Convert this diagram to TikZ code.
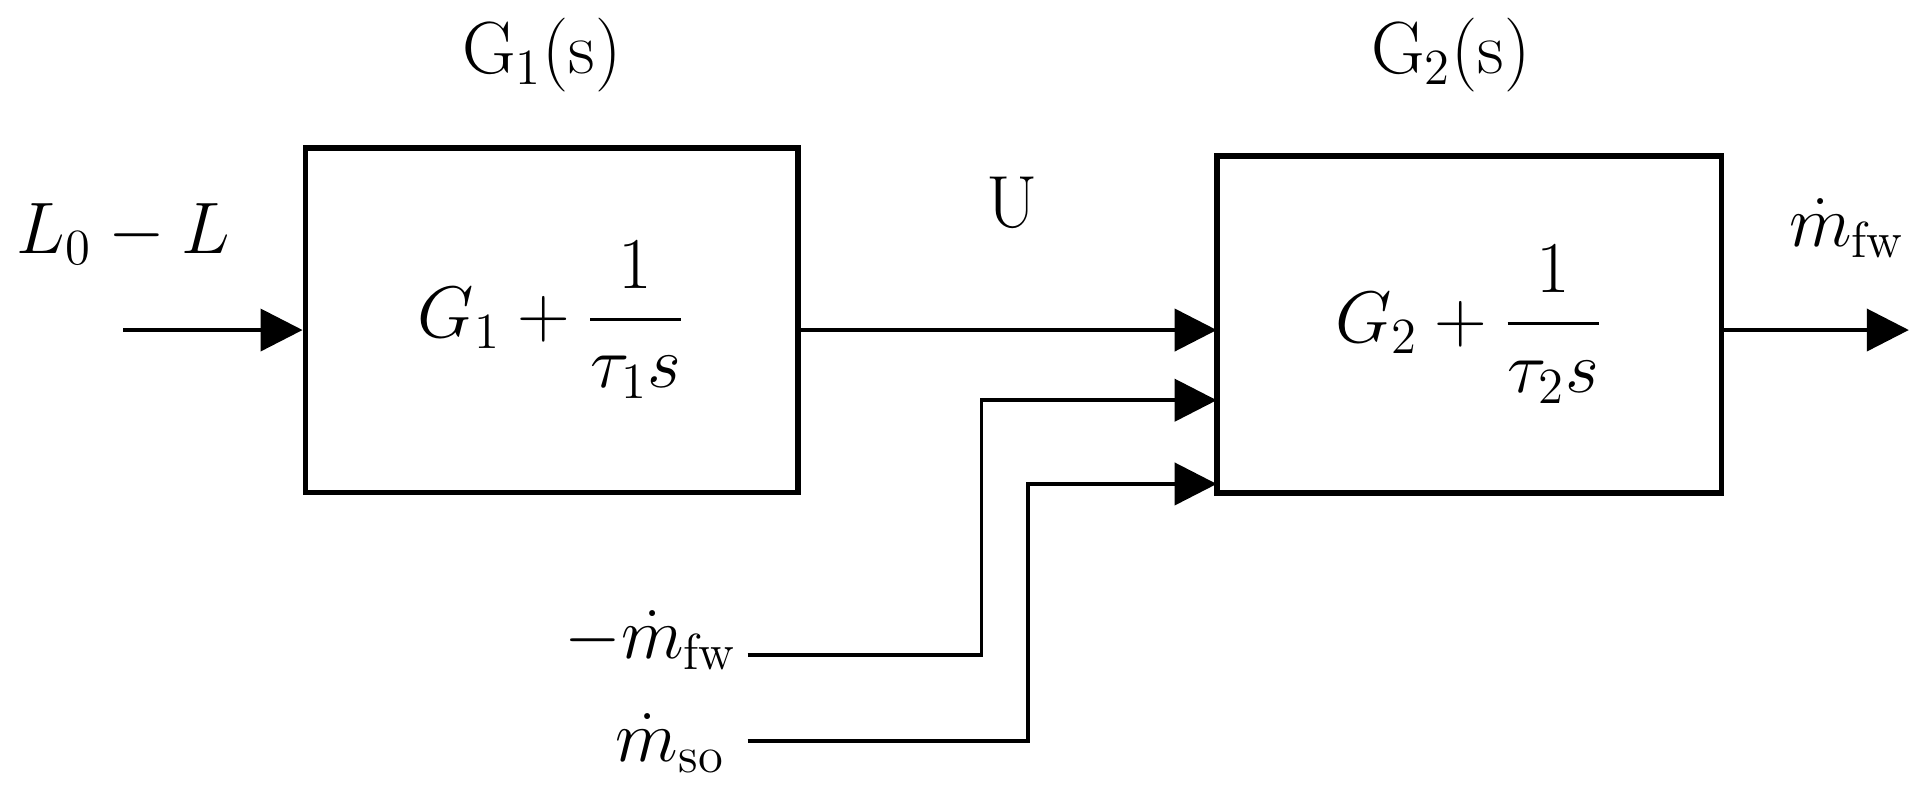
\documentclass[tikz,border=0pt]{standalone}
\usepackage{amsmath}
\usetikzlibrary{arrows.meta}
\begin{document}
\begin{tikzpicture}[x=0.0123cm,y=-0.0123cm,
    line width=1.1pt,
    >={Triangle[length=0.42cm,width=0.42cm]},
    txt/.style={font=\fontsize{21}{25}\selectfont, inner sep=0pt},
    blk/.style={draw, line width=1.6pt, inner sep=0pt, font=\fontsize{21}{25}\selectfont}]
    \useasboundingbox (0,0) rectangle (1568,658);
    % blocks
    \node[blk, minimum width=4.92cm, minimum height=3.44cm] (g1) at (448,260) {$G_1+\dfrac{1}{\tau_1 s}$};
    \node[blk, minimum width=5.04cm, minimum height=3.36cm] (g2) at (1193,263.5) {$G_2+\dfrac{1}{\tau_2 s}$};
    \node[txt] (n1) at (440,45) {G$_1$(s)};
    \node[txt] (n2) at (1178,45) {G$_2$(s)};
    \node[txt] (lin) at (100,190) {$L_0-L$};
    \node[txt] (u) at (822,165) {U};
    \node[txt] (mout) at (1500,185) {$\dot m_{\mathrm{fw}}$};
    \node[txt, anchor=east] (mfw) at (600,520) {$-\dot m_{\mathrm{fw}}$};
    \node[txt, anchor=east] (mso) at (590,603) {$\dot m_{\mathrm{so}}$};
    % connector points
    \coordinate (s0) at (100,268);
    \coordinate (t0) at (1550,268);
    \coordinate (a1) at (607,532);
    \coordinate (a2) at (797,532);
    \coordinate (a3) at (797,325);
    \coordinate (e2) at (988,325);
    \coordinate (b1) at (607,602);
    \coordinate (b2) at (835,602);
    \coordinate (b3) at (835,393);
    \coordinate (e3) at (988,393);
    \coordinate (e1) at (988,268);
    \draw[->] (s0) -- (g1.west|-s0);
    \draw[->] (g1.east|-e1) -- (e1);
    \draw[->] (a1) -- (a2) -- (a3) -- (e2);
    \draw[->] (b1) -- (b2) -- (b3) -- (e3);
    \draw[->] (g2.east|-t0) -- (t0);
\end{tikzpicture}
\end{document}
